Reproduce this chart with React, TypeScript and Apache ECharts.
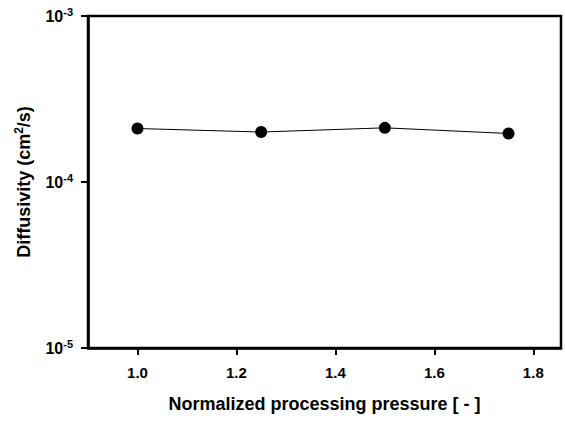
import React, { useEffect, useRef } from "react";
import * as echarts from "echarts";

// Normalized processing pressure vs. diffusivity
const pressure = [1.0, 1.25, 1.5, 1.75];
const diffusivity = [2.1e-4, 2.0e-4, 2.12e-4, 1.96e-4];
const xTicks = [1.0, 1.2, 1.4, 1.6, 1.8];
const yTickExponents = [-5, -4, -3];

const FONT = "'Liberation Sans', Arial, sans-serif";

export default function App() {
  const ref = useRef<HTMLDivElement>(null);

  useEffect(() => {
    if (!ref.current) return;
    const chart = echarts.init(ref.current, undefined, { renderer: "svg" });
    const yMin = Math.pow(10, yTickExponents[0]);
    const yMax = Math.pow(10, yTickExponents[yTickExponents.length - 1]);
    chart.setOption({
      animation: false,
      backgroundColor: "#ffffff",
      grid: {
        left: 88,
        right: 4,
        top: 16,
        bottom: 74,
        show: true,
        borderColor: "#000",
        borderWidth: 2.5,
      },
      xAxis: {
        type: "value",
        min: 0.9,
        max: 1.856,
        name: "Normalized processing pressure [ - ]",
        nameLocation: "middle",
        nameGap: 47,
        nameTextStyle: { fontFamily: FONT, fontWeight: "bold", fontSize: 18, color: "#000" },
        axisLine: { show: true, lineStyle: { color: "#000", width: 2.5 } },
        axisTick: {
          show: true,
          inside: false,
          length: 7,
          customValues: xTicks,
          lineStyle: { color: "#000", width: 2 },
        },
        axisLabel: {
          customValues: xTicks,
          margin: 17,
          fontFamily: FONT,
          fontWeight: "bold",
          fontSize: 15,
          color: "#000",
          formatter: (v: number) => v.toFixed(1),
        },
        splitLine: { show: false },
      },
      yAxis: {
        type: "log",
        logBase: 10,
        min: yMin,
        max: yMax,
        name: "Diffusivity (cm{s|2}/s)",
        nameLocation: "middle",
        nameRotate: 90,
        nameGap: 54,
        nameTextStyle: {
          fontFamily: FONT,
          fontWeight: "bold",
          fontSize: 18,
          color: "#000",
          rich: {
            s: { fontFamily: FONT, fontWeight: "bold", fontSize: 12, color: "#000", padding: [0, 0, 9, 0] },
          },
        },
        axisLine: { show: true, lineStyle: { color: "#000", width: 2.5 } },
        axisTick: { show: true, inside: false, length: 7, lineStyle: { color: "#000", width: 2 } },
        minorTick: { show: false },
        axisLabel: {
          margin: 15,
          fontFamily: FONT,
          fontWeight: "bold",
          fontSize: 15,
          color: "#000",
          formatter: (v: number) => `{b|10}{s|${Math.round(Math.log10(v))}}`,
          rich: {
            b: { fontFamily: FONT, fontWeight: "bold", fontSize: 16, color: "#000" },
            s: { fontFamily: FONT, fontWeight: "bold", fontSize: 11, color: "#000", padding: [0, 0, 9, 0] },
          },
        },
        splitLine: { show: false },
      },
      series: [
        {
          type: "line",
          data: pressure.map((p, i) => [p, diffusivity[i]]),
          symbol: "circle",
          symbolSize: 12,
          itemStyle: { color: "#000" },
          lineStyle: { color: "#000", width: 1 },
        },
      ],
    });
    return () => chart.dispose();
  }, []);

  return <div ref={ref} style={{ width: 565, height: 422, position: "absolute", left: 0, top: 0 }} />;
}
